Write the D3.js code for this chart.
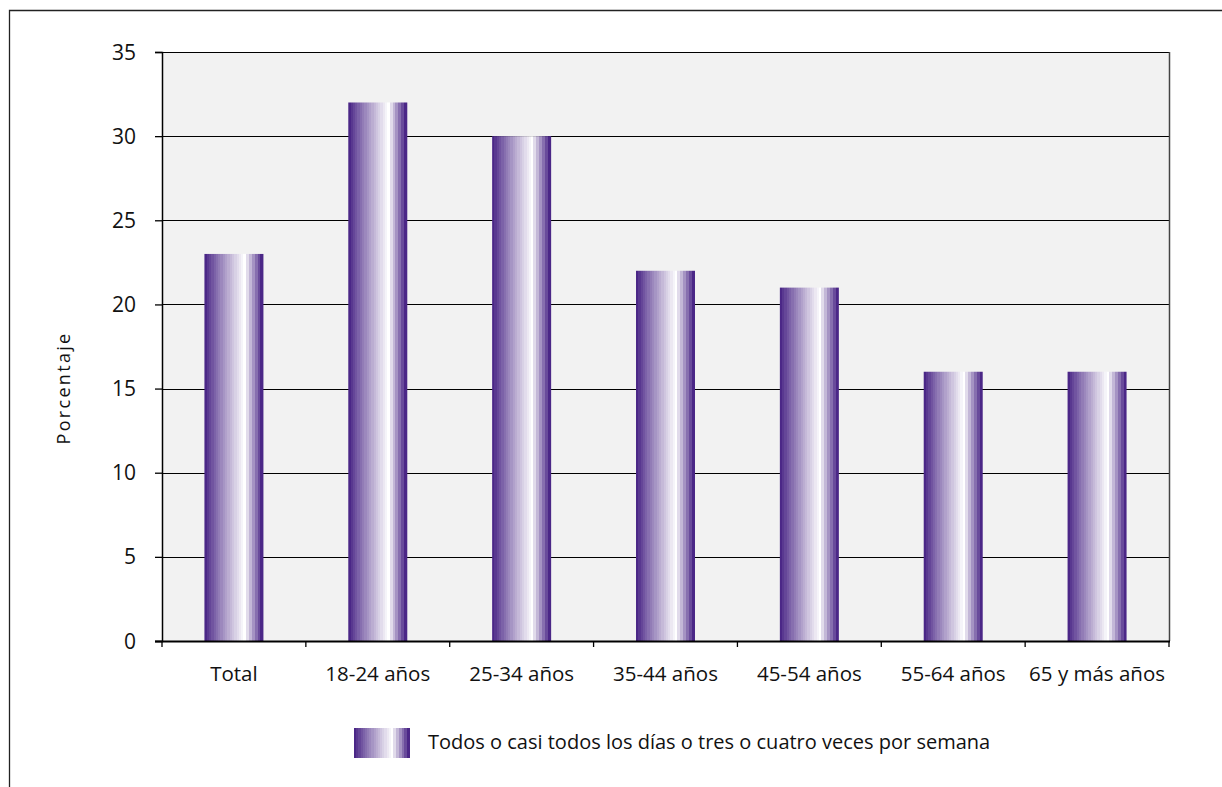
<!DOCTYPE html>
<html>
<head>
<meta charset="utf-8">
<script src="https://cdn.jsdelivr.net/npm/d3@7"></script>
<style>
  html, body { margin: 0; padding: 0; background: #fff; }
  svg { display: block; }
  text { font-family: "Open Sans", "DejaVu Sans", sans-serif; fill: #111; }
</style>
</head>
<body>
<svg id="chart" width="1222" height="787"></svg>
<script>
// Frequency of use by age group (percentage)
const categories = ["Total", "18-24 años", "25-34 años", "35-44 años", "45-54 años", "55-64 años", "65 y más años"];
const values = [23, 32, 30, 22, 21, 16, 16];
const yTicks = [0, 5, 10, 15, 20, 25, 30, 35];
const seriesName = "Todos o casi todos los días o tres o cuatro veces por semana";
const yTitle = "Porcentaje";

const svg = d3.select("#chart");
const plot = { left: 162, top: 52, right: 1169, bottom: 641 };

// Outer frame (only top and left edges fall inside the canvas)
svg.append("path")
  .attr("d", "M9.5,787 V10.5 H1222")
  .attr("fill", "none").attr("stroke", "#222").attr("stroke-width", 1.3);

const x = d3.scaleBand().domain(categories).range([plot.left, plot.right]).paddingInner(0).paddingOuter(0);
const y = d3.scaleLinear().domain([0, 35]).range([plot.bottom, plot.top]);

// Stepped purple-to-white-to-purple gradient for the bars
const defs = svg.append("defs");
function makeGradient(id) {
  const g = defs.append("linearGradient").attr("id", id).attr("x1", "0").attr("x2", "1").attr("y1", "0").attr("y2", "0");
  const dark = d3.rgb("#4b2787");
  const white = d3.rgb("#ffffff");
  const peak = 0.70, nLeft = 18, nRight = 6;
  const stops = [];
  for (let i = 0; i < nLeft; i++) {
    const t0 = peak * i / nLeft, t1 = peak * (i + 1) / nLeft;
    const c = d3.interpolateRgb(dark, white)(Math.pow(i / (nLeft - 1), 0.9));
    stops.push([t0, c], [t1, c]);
  }
  for (let i = 0; i < nRight; i++) {
    const t0 = peak + (1 - peak) * i / nRight, t1 = peak + (1 - peak) * (i + 1) / nRight;
    const c = d3.interpolateRgb(white, dark)((i + 1) / nRight);
    stops.push([t0, c], [t1, c]);
  }
  stops.forEach(([o, c]) => g.append("stop").attr("offset", o).attr("stop-color", c));
}
makeGradient("barGrad");

// Plot background
svg.append("rect")
  .attr("x", plot.left).attr("y", plot.top)
  .attr("width", plot.right - plot.left).attr("height", plot.bottom - plot.top)
  .attr("fill", "#f2f2f2");

// Gridlines
svg.append("g").selectAll("line").data(yTicks.filter(d => d > 0)).join("line")
  .attr("x1", plot.left).attr("x2", plot.right)
  .attr("y1", d => Math.round(y(d)) + 0.5).attr("y2", d => Math.round(y(d)) + 0.5)
  .attr("stroke", "#000").attr("stroke-width", 1);

// Right plot border
svg.append("line")
  .attr("x1", plot.right + 0.5).attr("x2", plot.right + 0.5)
  .attr("y1", plot.top).attr("y2", plot.bottom)
  .attr("stroke", "#444").attr("stroke-width", 1.5);

// Bars
const barW = 59;
svg.append("g").selectAll("rect").data(values).join("rect")
  .attr("x", (d, i) => x(categories[i]) + x.bandwidth() / 2 - barW / 2)
  .attr("y", d => y(d))
  .attr("width", barW)
  .attr("height", d => y(0) - y(d))
  .attr("fill", "url(#barGrad)");

// Y axis
const yAxis = svg.append("g").attr("transform", `translate(${plot.left},0)`)
  .call(d3.axisLeft(y).tickValues(yTicks).tickSize(7).tickPadding(19).tickFormat(d3.format("d")));
yAxis.select(".domain").attr("stroke", "#000").attr("stroke-width", 1.5);
yAxis.selectAll(".tick line").attr("stroke", "#000").attr("stroke-width", 1.3);
yAxis.selectAll(".tick text").attr("font-size", 21).attr("font-family", "Open Sans, DejaVu Sans, sans-serif").attr("fill", "#111").attr("dy", "0.34em");

// X axis: ticks sit at the category boundaries
const bounds = categories.map(c => x(c)).concat([plot.right]);
svg.append("line")
  .attr("x1", plot.left - 7).attr("x2", plot.right + 1)
  .attr("y1", plot.bottom + 0.5).attr("y2", plot.bottom + 0.5)
  .attr("stroke", "#000").attr("stroke-width", 2);
svg.append("g").selectAll("line").data(bounds).join("line")
  .attr("x1", d => d).attr("x2", d => d)
  .attr("y1", plot.bottom).attr("y2", plot.bottom + 6)
  .attr("stroke", "#000").attr("stroke-width", 1.3);

svg.append("g").selectAll("text").data(categories).join("text")
  .attr("x", d => x(d) + x.bandwidth() / 2)
  .attr("y", 681)
  .attr("text-anchor", "middle")
  .attr("font-size", 20.5)
  .text(d => d);

// Y axis title
svg.append("text")
  .attr("transform", "translate(70,388) rotate(-90)")
  .attr("text-anchor", "middle")
  .attr("font-size", 18)
  .attr("letter-spacing", 2.3)
  .text(yTitle);

// Legend
const lg = svg.append("g");
lg.append("rect").attr("x", 354).attr("y", 728).attr("width", 56).attr("height", 30).attr("fill", "url(#barGrad)");
lg.append("text").attr("x", 428).attr("y", 749).attr("font-size", 20).text(seriesName);
</script>
</body>
</html>
